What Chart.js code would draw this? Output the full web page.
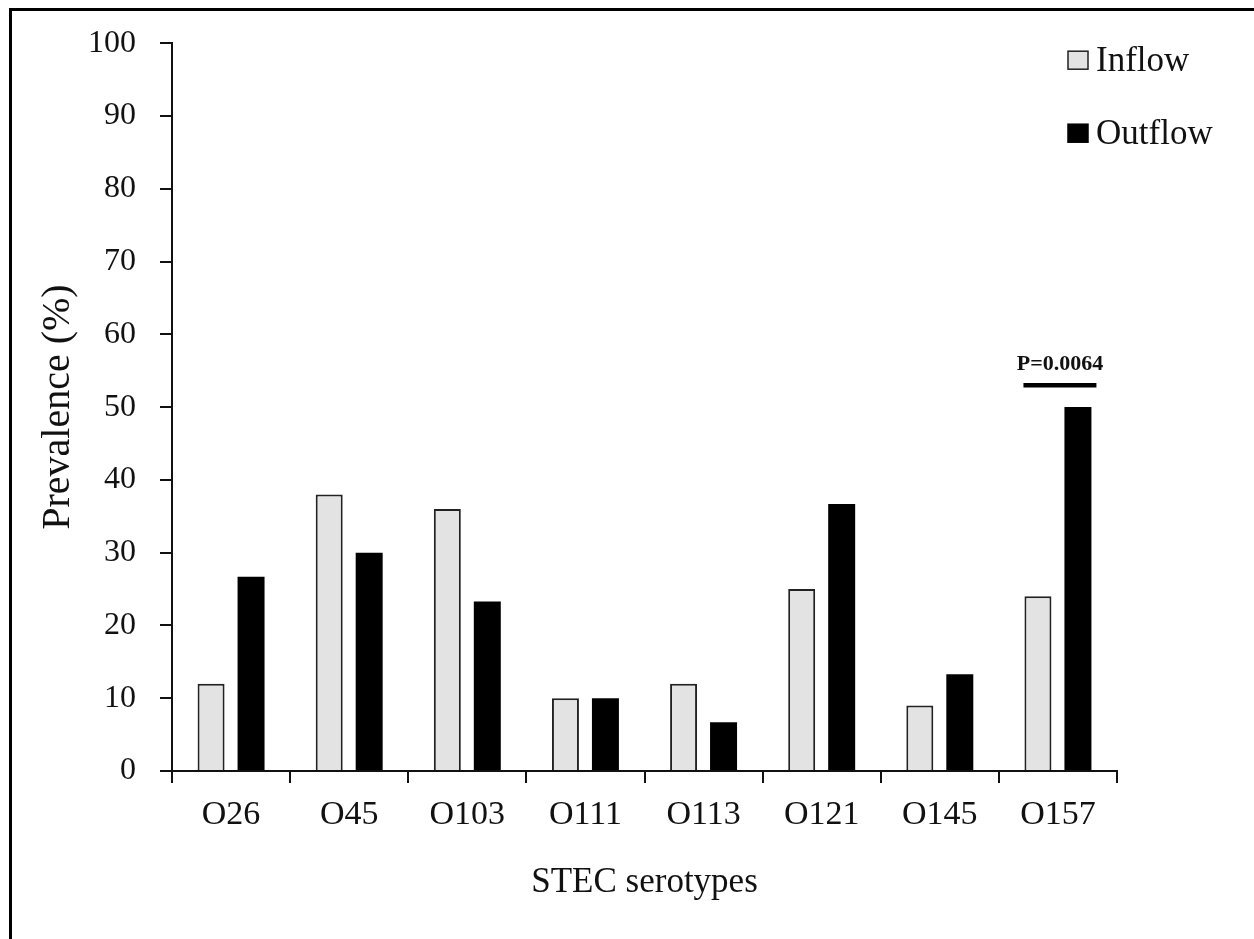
<!DOCTYPE html>
<html>
<head>
<meta charset="utf-8">
<script src="https://cdn.jsdelivr.net/npm/chart.js@4/dist/chart.umd.min.js"></script>
<style>
  html, body { margin: 0; padding: 0; background: #fff; overflow: hidden; }
  #wrap { position: relative; width: 1254px; height: 939px; }
  #frame { position: absolute; left: 9px; top: 8px; width: 1400px; height: 1100px;
           border-top: 3px solid #000; border-left: 3px solid #000; pointer-events: none; }
</style>
</head>
<body>
<div id="wrap">
  <canvas id="chart" width="1254" height="939"></canvas>
  <div id="frame"></div>
</div>
<script>
// Data
const serotypes = ['O26', 'O45', 'O103', 'O111', 'O113', 'O121', 'O145', 'O157'];
const inflow = [12, 38, 36, 10, 12, 25, 9, 24];
const outflow = [26.7, 30, 23.3, 10, 6.7, 36.7, 13.3, 50];
const yTicks = [0, 10, 20, 30, 40, 50, 60, 70, 80, 90, 100];

// significance mark over O157
const sigIndex = 7;
const sigLevel = 53;
const sigText = 'P=0.0064';

const serif = "'Liberation Serif', 'Times New Roman', serif";

// Legend drawn inside the plot, top right
const cornerLegend = {
    id: 'cornerLegend',
    afterDraw(chart) {
        const ctx = chart.ctx;
        const area = chart.chartArea;
        const x = area.right - 49;
        const rows = [area.top + 17, area.top + 90];
        ctx.save();
        ctx.font = '35px ' + serif;
        ctx.textBaseline = 'middle';
        ctx.textAlign = 'left';
        chart.data.datasets.forEach((ds, i) => {
            const y = rows[i];
            ctx.fillStyle = ds.backgroundColor;
            ctx.fillRect(x, y - 9, 20, 18);
            ctx.lineWidth = 1.5;
            ctx.strokeStyle = ds.borderColor;
            ctx.strokeRect(x, y - 9, 20, 18);
            ctx.fillStyle = '#111';
            ctx.fillText(ds.label, x + 28, y + 2);
        });
        ctx.restore();
    }
};

// P value bar above the O157 pair
const sigMark = {
    id: 'sigMark',
    afterDatasetsDraw(chart) {
        const ctx = chart.ctx;
        const a = chart.getDatasetMeta(0).data[sigIndex];
        const b = chart.getDatasetMeta(1).data[sigIndex];
        const x1 = a.x - a.width / 2 - 1;
        const x2 = b.x + b.width / 2 + 5;
        const y = chart.scales.y.getPixelForValue(sigLevel);
        ctx.save();
        ctx.strokeStyle = '#000';
        ctx.lineWidth = 4.5;
        ctx.beginPath();
        ctx.moveTo(x1, y);
        ctx.lineTo(x2, y);
        ctx.stroke();
        ctx.fillStyle = '#111';
        ctx.font = 'bold 22px ' + serif;
        ctx.textAlign = 'center';
        ctx.textBaseline = 'alphabetic';
        ctx.fillText(sigText, (x1 + x2) / 2, y - 15);
        ctx.restore();
    }
};

const ctx = document.getElementById('chart').getContext('2d');
new Chart(ctx, {
    type: 'bar',
    data: {
        labels: serotypes,
        datasets: [
            {
                label: 'Inflow',
                data: inflow,
                backgroundColor: '#e3e3e3',
                borderColor: '#222',
                borderWidth: 2,
                borderSkipped: 'bottom'
            },
            {
                label: 'Outflow',
                data: outflow,
                backgroundColor: '#000',
                borderColor: '#000',
                borderWidth: 0
            }
        ]
    },
    options: {
        responsive: false,
        animation: false,
        devicePixelRatio: 1,
        categoryPercentage: 0.677,
        barPercentage: 0.675,
        layout: { padding: { top: 40, right: 137, left: 0, bottom: 0 } },
        plugins: {
            legend: { display: false },
            tooltip: { enabled: false }
        },
        scales: {
            x: {
                grid: {
                    display: true,
                    drawOnChartArea: false,
                    drawTicks: true,
                    tickLength: 12,
                    color: '#111',
                    lineWidth: 2,
                    offset: true
                },
                border: { display: true, color: '#111', width: 2 },
                ticks: {
                    color: '#111',
                    padding: 12,
                    maxRotation: 0,
                    font: { family: serif, size: 34 }
                },
                title: {
                    display: true,
                    text: 'STEC serotypes',
                    color: '#111',
                    font: { family: serif, size: 35 },
                    padding: { top: 0, bottom: 35 }
                },
                afterFit(scale) { scale.height = 168; }
            },
            y: {
                min: 0,
                max: 100,
                afterBuildTicks(scale) { scale.ticks = yTicks.map(v => ({ value: v })); },
                grid: {
                    drawOnChartArea: false,
                    drawTicks: true,
                    tickLength: 12,
                    color: '#111',
                    lineWidth: 2
                },
                border: { display: true, color: '#111', width: 2 },
                ticks: {
                    color: '#111',
                    padding: 24,
                    font: { family: serif, size: 32 }
                },
                title: {
                    display: true,
                    text: 'Prevalence (%)',
                    color: '#111',
                    font: { family: serif, size: 40 },
                    padding: { top: 34, bottom: 0 }
                },
                afterFit(scale) { scale.width = 172; }
            }
        }
    },
    plugins: [cornerLegend, sigMark]
});
</script>
</body>
</html>
